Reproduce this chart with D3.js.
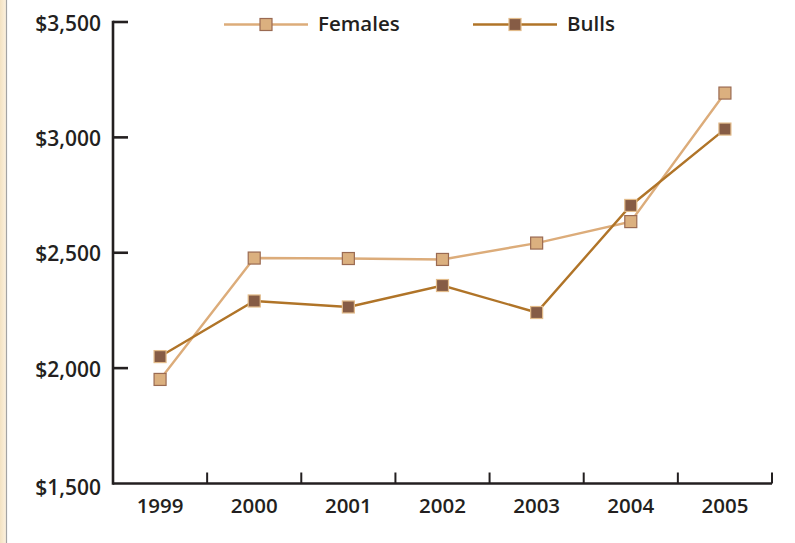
<!DOCTYPE html>
<html>
<head>
<meta charset="UTF-8">
<script src="https://d3js.org/d3.v7.min.js"></script>
<style>
  body { margin: 0; background: #fff; }
  text { font-family: "Open Sans", sans-serif; font-weight: 600; fill: #231f20; }
</style>
</head>
<body>
<svg></svg>
<script>
const years = ["1999", "2000", "2001", "2002", "2003", "2004", "2005"];
const females = [1951, 2477, 2475, 2471, 2542, 2635, 3192];
const bulls = [2050, 2291, 2265, 2358, 2241, 2705, 3036];
const yTicks = [1500, 2000, 2500, 3000, 3500];

let width = 795, height = 543;
let svg = d3.select("svg").attr("width", width).attr("height", height);

// left page edge strip
let grad = svg.append("defs").append("linearGradient").attr("id", "edge");
grad.append("stop").attr("offset", "0%").attr("stop-color", "#f3e2c2");
grad.append("stop").attr("offset", "100%").attr("stop-color", "#fcf1de");
svg.append("rect").attr("x", 0).attr("y", 0).attr("width", 6).attr("height", height).attr("fill", "url(#edge)");
svg.append("line").attr("x1", 6.5).attr("x2", 6.5).attr("y1", 0).attr("y2", height)
  .attr("stroke", "#a3a3a3").attr("stroke-width", 1.2);

let x = d3.scaleBand().domain(years).range([113, 772]);
let y = d3.scaleLinear().domain([1500, 3500]).range([483.5, 22]);

// y axis
svg.append("line").attr("x1", 113).attr("x2", 113).attr("y1", y(3500) - 1.2).attr("y2", y(1500) + 1.2)
  .attr("stroke", "#231f20").attr("stroke-width", 2.6);
svg.selectAll(".ytick").data(yTicks.slice(1)).enter().append("line")
  .attr("x1", 113).attr("x2", 128).attr("y1", d => y(d)).attr("y2", d => y(d))
  .attr("stroke", "#231f20").attr("stroke-width", 2.6);
svg.selectAll(".ylab").data(yTicks).enter().append("text")
  .attr("x", 101).attr("y", d => y(d) + (d == 1500 ? 6 : 3))
  .attr("text-anchor", "end").attr("dominant-baseline", "middle")
  .style("font-size", "21px")
  .text(d => "$" + d3.format(",")(d));

// x axis
svg.append("line").attr("x1", 113).attr("x2", 772).attr("y1", y(1500)).attr("y2", y(1500))
  .attr("stroke", "#231f20").attr("stroke-width", 2.6);
let bounds = years.slice(1).map(d => x(d)).concat([x.range()[1]]);
svg.selectAll(".xtick").data(bounds).enter().append("line")
  .attr("x1", d => d).attr("x2", d => d).attr("y1", y(1500)).attr("y2", y(1500) - 11)
  .attr("stroke", "#231f20").attr("stroke-width", 2);
svg.selectAll(".xlab").data(years).enter().append("text")
  .attr("x", d => x(d) + x.bandwidth() / 2).attr("y", 508)
  .attr("text-anchor", "middle").attr("dominant-baseline", "middle")
  .style("font-size", "20.5px")
  .text(d => d);

let series = [
  { name: "Females", values: females, line: "#dcac7a", fill: "#dbb07f", stroke: "#9a6a52", lx: 224 },
  { name: "Bulls", values: bulls, line: "#b07428", fill: "#865c45", stroke: "#e2bb8a", lx: 473 }
];

let lineGen = d3.line().x((d, i) => x(years[i]) + x.bandwidth() / 2).y(d => y(d));

series.forEach(s => {
  svg.append("path").attr("d", lineGen(s.values)).attr("fill", "none")
    .attr("stroke", s.line).attr("stroke-width", 2.4);
});
series.forEach(s => {
  svg.selectAll(null).data(s.values).enter().append("rect")
    .attr("x", (d, i) => x(years[i]) + x.bandwidth() / 2 - 6)
    .attr("y", d => y(d) - 6)
    .attr("width", 12).attr("height", 12)
    .attr("fill", s.fill).attr("stroke", s.stroke).attr("stroke-width", 1.2);
});

// legend
series.forEach(s => {
  let ly = 24.5;
  svg.append("line").attr("x1", s.lx).attr("x2", s.lx + 84).attr("y1", ly).attr("y2", ly)
    .attr("stroke", s.line).attr("stroke-width", 2.4);
  svg.append("rect").attr("x", s.lx + 42 - 6).attr("y", ly - 6).attr("width", 12).attr("height", 12)
    .attr("fill", s.fill).attr("stroke", s.stroke).attr("stroke-width", 1.2);
  svg.append("text").attr("x", s.lx + 94).attr("y", ly + 1).attr("dominant-baseline", "middle")
    .style("font-size", "20.5px").text(s.name);
});
</script>
</body>
</html>
